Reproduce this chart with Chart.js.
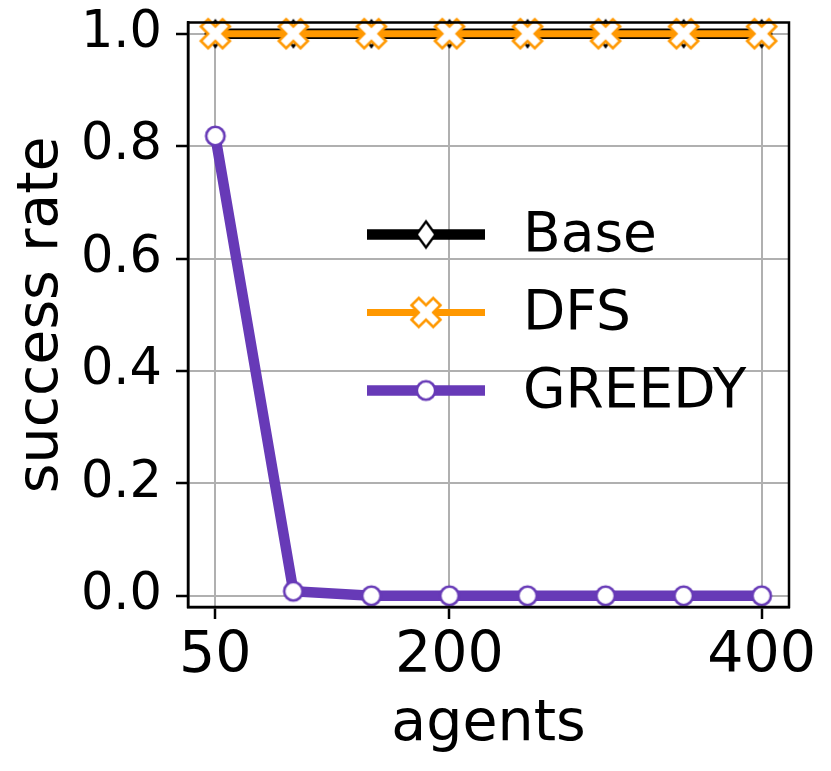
<!DOCTYPE html>
<html><head><meta charset="utf-8">
<script src="https://cdn.jsdelivr.net/npm/chart.js@4.4.1/dist/chart.umd.min.js"></script>
<style>html,body{margin:0;padding:0;background:#fff;overflow:hidden}#wrap{width:831px;height:771px}</style>
</head><body><div id="wrap"><canvas id="c" width="831" height="771"></canvas></div>
<script>
// ---- data ----
const agents = [50, 100, 150, 200, 250, 300, 350, 400];
const baseRate = [1, 1, 1, 1, 1, 1, 1, 1];
const dfsRate = [1, 1, 1, 1, 1, 1, 1, 1];
const greedyRate = [0.818, 0.008, 0, 0, 0, 0, 0, 0];
const xTicks = [50, 200, 400];
const yTicks = [0, 0.2, 0.4, 0.6, 0.8, 1.0];
const seriesNames = ['Base', 'DFS', 'GREEDY'];
const xTitle = 'agents';
const yTitle = 'success rate';

// ---- styles ----
const FONT = "'DejaVu Sans', sans-serif";
const COL_BASE = '#000000', COL_DFS = '#ff9800', COL_GREEDY = '#673ab7';

function makeCanvas(w, h) { const c = document.createElement('canvas'); c.width = w; c.height = h; return c; }
function xMarker(color) {
  const S = 36, k = 29, c = makeCanvas(S, S), g = c.getContext('2d');
  const pts = [[0.25,0],[0.5,0.25],[0.75,0],[1,0.25],[0.75,0.5],[1,0.75],[0.75,1],[0.5,0.75],[0.25,1],[0,0.75],[0.25,0.5],[0,0.25]];
  g.beginPath();
  pts.forEach((p, i) => { const x = S/2 + (p[0]-0.5)*k, y = S/2 + (p[1]-0.5)*k; i ? g.lineTo(x, y) : g.moveTo(x, y); });
  g.closePath(); g.fillStyle = '#fff'; g.fill(); g.lineWidth = 2.6; g.strokeStyle = color; g.stroke();
  return c;
}
function diamondMarker(color) {
  const S = 34, hw = 9.5, hh = 13, c = makeCanvas(S, S), g = c.getContext('2d');
  g.beginPath(); g.moveTo(S/2, S/2-hh); g.lineTo(S/2+hw, S/2); g.lineTo(S/2, S/2+hh); g.lineTo(S/2-hw, S/2); g.closePath();
  g.fillStyle = '#fff'; g.fill(); g.lineWidth = 2.4; g.strokeStyle = color; g.stroke();
  return c;
}
function circleMarker(color) {
  const S = 30, c = makeCanvas(S, S), g = c.getContext('2d');
  g.beginPath(); g.arc(S/2, S/2, 9.2, 0, Math.PI*2);
  g.fillStyle = '#fff'; g.fill(); g.lineWidth = 2.6; g.strokeStyle = color; g.stroke();
  return c;
}
const mBase = diamondMarker(COL_BASE), mDfs = xMarker(COL_DFS), mGreedy = circleMarker(COL_GREEDY);

const toXY = (arr) => arr.map((v, i) => ({ x: agents[i], y: v }));

const frame = {
  id: 'frame',
  afterDatasetsDraw(chart) {
    const a = chart.chartArea, g = chart.ctx;
    g.save(); g.strokeStyle = '#000'; g.lineWidth = 2.5;
    g.strokeRect(a.left, a.top, a.right - a.left, a.bottom - a.top);
    g.restore();
  }
};
const legendPlugin = {
  id: 'mplLegend',
  afterDraw(chart) {
    const a = chart.chartArea, g = chart.ctx;
    const items = chart.data.datasets.slice().sort((p, q) => q.order - p.order);
    const x0 = a.left + 179, x1 = a.left + 297, tx = a.left + 335;
    let y = a.top + 212;
    g.save();
    items.forEach(ds => {
      g.beginPath(); g.moveTo(x0, y); g.lineTo(x1, y);
      g.lineWidth = ds.borderWidth; g.strokeStyle = ds.borderColor; g.lineCap = 'butt'; g.stroke();
      const m = ds.pointStyle; g.drawImage(m, (x0 + x1)/2 - m.width/2, y - m.height/2);
      g.fillStyle = '#000'; g.font = '55px ' + FONT; g.textBaseline = 'middle'; g.textAlign = 'left';
      g.fillText(ds.label, tx, y + 2);
      y += 78;
    });
    g.restore();
  }
};

new Chart(document.getElementById('c'), {
  type: 'line',
  data: {
    datasets: [
      { label: seriesNames[0], data: toXY(baseRate), borderColor: COL_BASE, borderWidth: 10.5, pointStyle: mBase, pointRadius: 12, order: 3 },
      { label: seriesNames[1], data: toXY(dfsRate), borderColor: COL_DFS, borderWidth: 7, pointStyle: mDfs, pointRadius: 12, order: 2 },
      { label: seriesNames[2], data: toXY(greedyRate), borderColor: COL_GREEDY, borderWidth: 10.5, pointStyle: mGreedy, pointRadius: 12, order: 1 }
    ].map(d => Object.assign(d, { fill: false, tension: 0, clip: false, borderJoinStyle: 'round', borderCapStyle: 'butt', backgroundColor: '#fff' }))
  },
  options: {
    responsive: false, animation: false, devicePixelRatio: 1, events: [],
    layout: { padding: { top: 20, right: 42, left: 0, bottom: 0 } },
    plugins: { legend: { display: false }, tooltip: { enabled: false } },
    scales: {
      x: {
        type: 'linear', min: 32.5, max: 417.5,
        afterBuildTicks: s => { s.ticks = xTicks.map(v => ({ value: v })); },
        afterFit: s => { s.height = 164; s.paddingLeft = 0; s.paddingRight = 0; },
        grid: { color: '#b0b0b0', lineWidth: 2, tickColor: '#000', tickLength: 12, tickWidth: 2.5 },
        border: { display: true, color: '#000', width: 2.5 },
        ticks: { color: '#000', font: { family: FONT, size: 57, lineHeight: 1 }, padding: 10, maxRotation: 0, autoSkip: false, callback: v => String(v) },
        title: { display: true, text: xTitle, color: '#000', font: { family: FONT, size: 57, lineHeight: 1 }, padding: { top: 0, bottom: 17 } }
      },
      y: {
        type: 'linear', min: -0.02, max: 1.02,
        afterBuildTicks: s => { s.ticks = yTicks.map(v => ({ value: v })); },
        afterFit: s => { s.width = 188; s.paddingTop = 0; s.paddingBottom = 0; },
        grid: { color: '#b0b0b0', lineWidth: 2, tickColor: '#000', tickLength: 12, tickWidth: 2.5 },
        border: { display: true, color: '#000', width: 2.5 },
        ticks: { color: '#000', font: { family: FONT, size: 51, lineHeight: 1 }, padding: 14, autoSkip: false, callback: v => v.toFixed(1) },
        title: { display: true, text: yTitle, color: '#000', font: { family: FONT, size: 57, lineHeight: 1 }, padding: { top: 14, bottom: 0 } }
      }
    }
  },
  plugins: [frame, legendPlugin]
});
</script>
</body></html>
